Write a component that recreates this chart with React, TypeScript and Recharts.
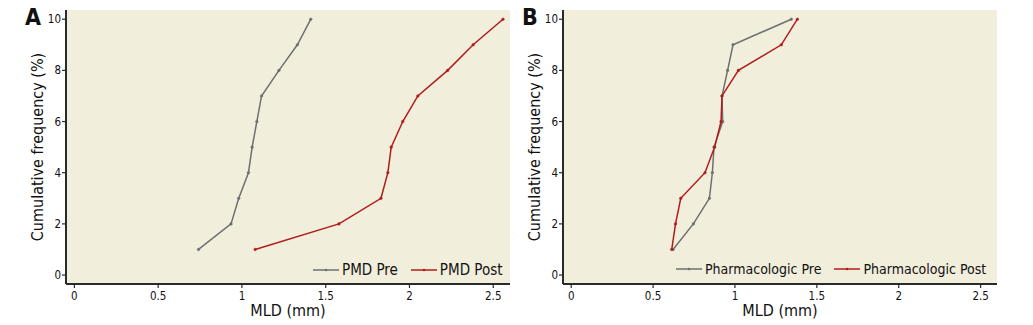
import { LineChart, Line, XAxis, YAxis, CartesianGrid, Legend, Label } from "recharts";

// cumulative frequency (y) against MLD (x)
const FREQ = [1, 2, 3, 4, 5, 6, 7, 8, 9, 10];
const PMD_PRE = [0.741, 0.935, 0.981, 1.039, 1.061, 1.089, 1.117, 1.221, 1.331, 1.411];
const PMD_POST = [1.079, 1.579, 1.83, 1.871, 1.891, 1.96, 2.05, 2.228, 2.38, 2.558];
const PHARMA_PRE = [0.622, 0.746, 0.844, 0.862, 0.872, 0.925, 0.921, 0.955, 0.988, 1.344];
const PHARMA_POST = [0.614, 0.637, 0.669, 0.817, 0.876, 0.915, 0.921, 1.021, 1.283, 1.381];

const X_TICKS = [0, 0.5, 1, 1.5, 2, 2.5];
const Y_TICKS = [0, 2, 4, 6, 8, 10];

const GRAY = "#6f6f6f";
const RED = "#b01c1c";
const BG = "#f2eedc";
const AXIS = "#2a2a2a";
const FONT = "'Liberation Sans Narrow', 'DejaVu Sans Condensed', 'Liberation Sans', Arial, sans-serif";

const toRows = (xs: number[]) => xs.map((mld, i) => ({ mld, freq: FREQ[i] }));

// recharts sorts legend items by name, so keep the series order here
const legendContent = (names: string[], fontSize: number) => (props: any) => {
  const items = names
    .map((n) => (props.payload || []).find((p: any) => p.value === n))
    .filter(Boolean);
  return (
    <div style={{ display: "flex", alignItems: "center", fontSize, color: "#111", whiteSpace: "nowrap", fontFamily: FONT }}>
      {items.map((it: any) => (
        <span key={it.value} style={{ display: "inline-flex", alignItems: "center", marginRight: 13 }}>
          <svg width={26} height={6} style={{ marginRight: 3 }}>
            <line x1={0} y1={3} x2={26} y2={3} stroke={it.color} strokeWidth={1.5} />
            <circle cx={13} cy={3} r={1.2} fill={it.color} />
          </svg>
          <span>{it.value}</span>
        </span>
      ))}
    </div>
  );
};

interface PanelProps {
  letter: string;
  left: number;
  width: number;
  pre: number[];
  post: number[];
  preName: string;
  postName: string;
  legendLeft: number;
  legendSize: number;
}

function Panel({ letter, left, width, pre, post, preName, postName, legendLeft, legendSize }: PanelProps) {
  const tick = { fontSize: 11.5, fill: "#111", fontFamily: FONT };
  return (
    <div style={{ position: "absolute", left, top: 0, width, height: 325 }}>
      <div style={{ position: "absolute", left: 25, top: 4, fontSize: 23, fontWeight: "bold", fontFamily: FONT, color: "#111" }}>
        {letter}
      </div>
      <LineChart width={width} height={325} margin={{ top: 10, right: 10, bottom: 0, left: 9 }} style={{ fontFamily: FONT }}>
        <CartesianGrid horizontal={false} vertical={false} fill={BG} stroke="none" />
        <XAxis
          type="number"
          dataKey="mld"
          domain={[-0.05, 2.6]}
          ticks={X_TICKS}
          allowDataOverflow
          height={41}
          tickSize={4}
          tickMargin={4}
          tick={tick}
          axisLine={{ stroke: AXIS, strokeWidth: 2 }}
          tickLine={{ stroke: AXIS, strokeWidth: 1.2 }}
        >
          <Label value="MLD (mm)" position="insideBottom" offset={9} style={{ fontSize: 16, fill: "#111", fontFamily: FONT }} />
        </XAxis>
        <YAxis
          type="number"
          dataKey="freq"
          domain={[-0.35, 10.36]}
          ticks={Y_TICKS}
          allowDataOverflow
          width={57}
          tickSize={4}
          tickMargin={1}
          tick={tick}
          axisLine={{ stroke: AXIS, strokeWidth: 2 }}
          tickLine={{ stroke: AXIS, strokeWidth: 1.2 }}
        >
          <Label value="Cumulative frequency (%)" angle={-90} position="center" style={{ fontSize: 16, fill: "#111", fontFamily: FONT, textAnchor: "middle" }} />
        </YAxis>
        <Legend
          layout="horizontal"
          verticalAlign="middle"
          align="center"
          wrapperStyle={{ top: 261, left: legendLeft, width: "auto" }}
          content={legendContent([preName, postName], legendSize)}
        />
        <Line
          data={toRows(pre)}
          dataKey="freq"
          name={preName}
          stroke={GRAY}
          strokeWidth={1.5}
          dot={{ r: 1.3, fill: GRAY, stroke: GRAY, strokeWidth: 0.5 }}
          isAnimationActive={false}
        />
        <Line
          data={toRows(post)}
          dataKey="freq"
          name={postName}
          stroke={RED}
          strokeWidth={1.5}
          dot={{ r: 1.3, fill: RED, stroke: RED, strokeWidth: 0.5 }}
          isAnimationActive={false}
        />
      </LineChart>
    </div>
  );
}

export default function App() {
  return (
    <div style={{ position: "absolute", left: 0, top: 0, width: 1033, height: 325, background: "#fff" }}>
      <Panel
        letter="A"
        left={0}
        width={520}
        pre={PMD_PRE}
        post={PMD_POST}
        preName="PMD Pre"
        postName="PMD Post"
        legendLeft={313}
        legendSize={15}
      />
      <Panel
        letter="B"
        left={497}
        width={510}
        pre={PHARMA_PRE}
        post={PHARMA_POST}
        preName="Pharmacologic Pre"
        postName="Pharmacologic Post"
        legendLeft={179}
        legendSize={14}
      />
    </div>
  );
}
